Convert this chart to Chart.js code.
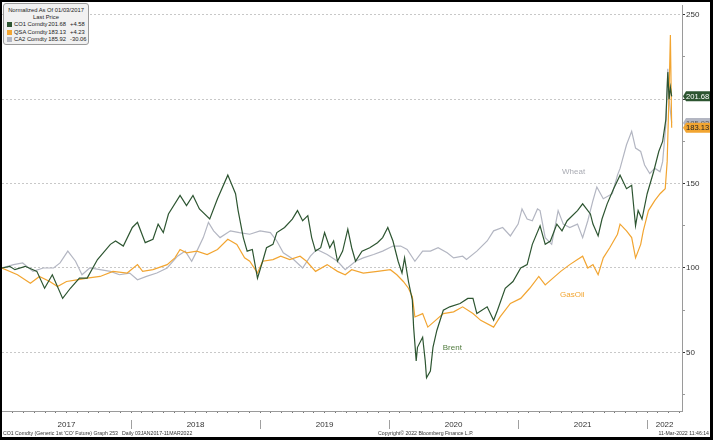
<!DOCTYPE html>
<html>
<head>
<meta charset="utf-8">
<script src="https://cdn.jsdelivr.net/npm/chart.js@4.4.1/dist/chart.umd.min.js"></script>
<style>
  html, body { margin: 0; padding: 0; background: #fff; }
  #wrap { position: relative; width: 713px; height: 440px; overflow: hidden; font-family: "Liberation Sans", Arial, sans-serif; color: #222; }
  #chart { position: absolute; left: 0; top: 0; }
  #frame { position: absolute; left: 0; top: 0; width: 713px; height: 440px; box-sizing: border-box;
           border-style: solid; border-color: #000; border-width: 2px 3px 3px 2px; pointer-events: none; }
  #legend { position: absolute; left: 3px; top: 3px; width: 84px; height: 40px; background: #f1f1f1;
            border: 1px solid #9a9a9a; border-radius: 3px; font-size: 5.8px; line-height: 7.2px; }
  #legend .row { position: relative; height: 7.2px; white-space: nowrap; }
  #legend .title { padding-top: 3px; text-align: center; }
  #legend .sub { text-align: center; }
  #legend .sw { position: absolute; left: 3px; top: 1px; width: 5px; height: 5px; }
  #legend .nm { position: absolute; left: 10px; }
  #legend .vl { position: absolute; right: 22px; }
  #legend .ch { position: absolute; left: 66px; }
  .foot { position: absolute; top: 430px; font-size: 5.2px; line-height: 6px; white-space: nowrap; color: #333; }
</style>
</head>
<body>
<div id="wrap">
  <canvas id="chart" width="713" height="440"></canvas>
  <div id="legend"></div>
  <div class="foot" style="left:3px">CO1 Comdty (Generic 1st 'CO' Future) Graph 253</div>
  <div class="foot" style="left:122px">Daily 03JAN2017-11MAR2022</div>
  <div class="foot" style="left:378px">Copyright© 2022 Bloomberg Finance L.P.</div>
  <div class="foot" style="right:4px">11-Mar-2022 11:46:14</div>
  <div id="frame"></div>
</div>
<script>
// series names / colours / legend info
const seriesNames = ["CO1 Comdty", "QSA Comdty", "CA2 Comdty"];
const seriesLabels = ["Brent", "GasOil", "Wheat"];
const seriesColors = ["#2d5531", "#f2a531", "#b3b6c2"];
const dayChange = ["+4.58", "+4.23", "-30.06"];
const yearLabels = ["2017", "2018", "2019", "2020", "2021", "2022"];

// Brent (CO1), normalized to 100 on 03 Jan 2017, x = decimal year
const brentT = [2017.00, 2017.06, 2017.10, 2017.18, 2017.27, 2017.33, 2017.39, 2017.47, 2017.53, 2017.60, 2017.66, 2017.74, 2017.84, 2017.88, 2017.94,
  2018.01, 2018.05, 2018.11, 2018.17, 2018.21, 2018.25, 2018.29, 2018.38, 2018.43, 2018.48, 2018.53, 2018.61, 2018.67, 2018.75, 2018.81, 2018.83, 2018.87, 2018.90, 2018.94, 2018.98,
  2019.02, 2019.05, 2019.10, 2019.13, 2019.19, 2019.25, 2019.29, 2019.33, 2019.37, 2019.40, 2019.43, 2019.47, 2019.50, 2019.54, 2019.57, 2019.60, 2019.64, 2019.68, 2019.71, 2019.74, 2019.79, 2019.85, 2019.91, 2019.95, 2019.99,
  2020.03, 2020.07, 2020.10, 2020.12, 2020.15, 2020.18, 2020.19, 2020.21, 2020.22, 2020.26, 2020.28, 2020.29, 2020.32, 2020.34, 2020.37, 2020.42, 2020.47, 2020.55, 2020.61, 2020.65, 2020.68, 2020.76, 2020.81, 2020.84, 2020.90, 2020.96,
  2021.02, 2021.07, 2021.11, 2021.17, 2021.21, 2021.25, 2021.30, 2021.34, 2021.38, 2021.46, 2021.50, 2021.56, 2021.58, 2021.62, 2021.65, 2021.69, 2021.74, 2021.79, 2021.84, 2021.88, 2021.91, 2021.93, 2021.96,
  2022.00, 2022.05, 2022.09, 2022.12, 2022.145, 2022.16, 2022.17, 2022.18, 2022.19];
const brentV = [100, 101, 99, 101, 98, 88, 96, 82, 88, 94, 94, 105, 114, 116, 113,
  124, 127, 115, 117, 126, 121, 132, 143, 137, 143, 135, 129, 141, 155, 144, 134, 118, 110, 111, 94,
  104, 112, 114, 121, 124, 129, 134, 128, 131, 118, 110, 112, 121, 112, 116, 104, 110, 123, 112, 104, 110, 112, 115, 118, 124,
  116, 104, 97, 106, 92, 81, 65, 45, 53, 59, 45, 35, 39, 53, 63, 75, 77, 79, 82, 82, 73, 77, 69, 75, 88, 92,
  100, 102, 114, 125, 114, 116, 126, 122, 128, 134, 138, 132, 126, 119, 129, 138, 147, 155, 147, 149, 125, 134, 129,
  144, 157, 169, 175, 188, 216, 200, 207, 201.68];

// Gasoil (QSA)
const gasoilT = [2017.00, 2017.12, 2017.22, 2017.29, 2017.37, 2017.43, 2017.50, 2017.58, 2017.66, 2017.76, 2017.86, 2017.97,
  2018.05, 2018.09, 2018.17, 2018.28, 2018.34, 2018.38, 2018.43, 2018.51, 2018.59, 2018.67, 2018.75, 2018.82, 2018.88, 2018.92, 2018.98,
  2019.02, 2019.10, 2019.16, 2019.23, 2019.31, 2019.36, 2019.43, 2019.52, 2019.60, 2019.66, 2019.71, 2019.80, 2019.91,
  2020.01, 2020.06, 2020.11, 2020.15, 2020.18, 2020.20, 2020.26, 2020.30, 2020.36, 2020.42, 2020.50, 2020.57, 2020.65, 2020.71, 2020.81, 2020.86, 2020.94,
  2021.02, 2021.09, 2021.16, 2021.21, 2021.27, 2021.33, 2021.40, 2021.46, 2021.50, 2021.54, 2021.58, 2021.62, 2021.66, 2021.71, 2021.77, 2021.79, 2021.84, 2021.88, 2021.91, 2021.95, 2021.97,
  2022.01, 2022.06, 2022.10, 2022.14, 2022.155, 2022.17, 2022.18, 2022.19];
const gasoilV = [100, 96, 91, 95, 92, 89, 92, 93, 94, 95, 98, 97,
  102, 98, 99, 102, 106, 111, 109, 110, 108, 111, 117, 114, 106, 104, 97,
  104, 105, 107, 105, 107, 104, 98, 102, 98, 96, 99, 97, 98,
  99, 96, 92, 88, 83, 71, 73, 65, 69, 73, 74, 77, 73, 69, 65, 71, 79,
  82, 88, 95, 90, 94, 98, 102, 105, 107, 100, 102, 96, 106, 112, 120, 126, 122, 118, 106, 114, 122,
  134, 140, 144, 147, 163, 205, 238, 183.13];

// Wheat (CA2)
const wheatT = [2017.00, 2017.09, 2017.16, 2017.24, 2017.32, 2017.40, 2017.45, 2017.51, 2017.57, 2017.62, 2017.68, 2017.76, 2017.84, 2017.91, 2017.99,
  2018.05, 2018.12, 2018.20, 2018.28, 2018.36, 2018.42, 2018.47, 2018.51, 2018.56, 2018.60, 2018.64, 2018.69, 2018.77, 2018.84, 2018.92,
  2019.00, 2019.08, 2019.13, 2019.18, 2019.26, 2019.33, 2019.39, 2019.44, 2019.52, 2019.60, 2019.66, 2019.74, 2019.80, 2019.88, 2019.95,
  2020.03, 2020.09, 2020.14, 2020.20, 2020.26, 2020.32, 2020.38, 2020.45, 2020.50, 2020.57, 2020.60, 2020.68, 2020.76, 2020.81, 2020.88, 2020.94,
  2021.00, 2021.03, 2021.07, 2021.11, 2021.15, 2021.17, 2021.21, 2021.26, 2021.31, 2021.35, 2021.40, 2021.46, 2021.50, 2021.54, 2021.58, 2021.61, 2021.66, 2021.73, 2021.77, 2021.79, 2021.84, 2021.88, 2021.91, 2021.95, 2021.98,
  2022.02, 2022.06, 2022.10, 2022.12, 2022.145, 2022.16, 2022.17, 2022.19];
const wheatV = [100, 102, 103, 98, 100, 100, 103, 110, 104, 96, 100, 99, 98, 96, 97,
  93, 95, 97, 100, 107, 110, 104, 110, 118, 127, 122, 118, 122, 121, 120,
  122, 121, 116, 109, 105, 100, 107, 111, 108, 104, 99, 104, 106, 108, 110,
  113, 113, 111, 104, 110, 110, 112, 109, 106, 107, 105, 110, 116, 122, 124, 119,
  126, 135, 129, 128, 135, 134, 118, 114, 134, 126, 124, 126, 118, 128, 140, 148, 141, 144, 155, 159, 173, 181, 171, 169, 161,
  156, 159, 157, 163, 185, 218, 200, 185.92];

const yTicks = [25, 50, 75, 100, 125, 150, 175, 200, 225, 250];

const X_MIN = 2017, X_MAX = 2022.27;
const FONT = '"Liberation Sans", Arial, sans-serif';

function toPoints(ts, vs) {
  return ts.map((t, i) => ({ x: t, y: vs[i] }));
}

const seriesData = [toPoints(brentT, brentV), toPoints(gasoilT, gasoilV), toPoints(wheatT, wheatV)];

// legend box
const legendEl = document.getElementById("legend");
let html = '<div class="title">Normalized As Of 01/03/2017</div><div class="sub">Last Price</div>';
seriesNames.forEach((n, i) => {
  const last = seriesData[i][seriesData[i].length - 1].y.toFixed(2);
  html += '<div class="row"><span class="sw" style="background:' + seriesColors[i] + '"></span>' +
    '<span class="nm">' + n + '</span><span class="vl">' + last + '</span><span class="ch">' + dayChange[i] + '</span></div>';
});
legendEl.innerHTML = html;

// monthly minor ticks + one label tick per year segment
function buildXTicks(scale) {
  const ticks = [];
  for (let m = 1; 2017 + m / 12 <= X_MAX; m++) ticks.push({ value: 2017 + m / 12 });
  yearLabels.forEach((lab, i) => {
    const y0 = 2017 + i, y1 = Math.min(y0 + 1, X_MAX);
    ticks.push({ value: (y0 + y1) / 2, yearLabel: lab });
  });
  scale.ticks = ticks;
}

const decorPlugin = {
  id: "decor",
  afterDraw(chart) {
    const { ctx, scales: { x, y } } = chart;
    ctx.save();
    // year separators below the axis
    ctx.strokeStyle = "#a0a0a0";
    ctx.lineWidth = 1;
    for (let yr = 2018; yr <= 2022; yr++) {
      const px = Math.round(x.getPixelForValue(yr)) + 0.5;
      ctx.beginPath();
      ctx.moveTo(px, x.top + 9);
      ctx.lineTo(px, x.top + 18);
      ctx.stroke();
    }
    // inline series labels
    ctx.font = "8px " + FONT;
    ctx.textBaseline = "middle";
    ctx.textAlign = "center";
    const spots = [[2020.49, 53, "#4f7a3c"], [2021.42, 84, "#f2a531"], [2021.43, 157, "#a9abb3"]];
    spots.forEach((s, i) => {
      ctx.fillStyle = s[2];
      ctx.fillText(seriesLabels[i], x.getPixelForValue(s[0]), y.getPixelForValue(s[1]));
    });
    // last value tags on the right axis
    const tagOrder = [2, 0, 1];
    const fg = ["#ffffff", "#222222", "#555555"];
    tagOrder.forEach(i => {
      const last = seriesData[i][seriesData[i].length - 1].y;
      const py = y.getPixelForValue(last);
      const x0 = y.left + 1, h = 10;
      ctx.fillStyle = seriesColors[i];
      ctx.beginPath();
      ctx.moveTo(x0, py);
      ctx.lineTo(x0 + 3, py - h / 2);
      ctx.lineTo(x0 + 40, py - h / 2);
      ctx.lineTo(x0 + 40, py + h / 2);
      ctx.lineTo(x0 + 3, py + h / 2);
      ctx.closePath();
      ctx.fill();
      ctx.fillStyle = fg[i];
      ctx.textAlign = "left";
      ctx.font = "7.6px " + FONT;
      ctx.fillText(last.toFixed(2), x0 + 3, py + 0.5);
    });
    ctx.restore();
  }
};

new Chart(document.getElementById("chart").getContext("2d"), {
  type: "line",
  data: {
    datasets: seriesData.map((pts, i) => ({
      label: seriesNames[i],
      data: pts,
      borderColor: seriesColors[i],
      borderWidth: 1.2,
      pointRadius: 0,
      tension: 0,
      fill: false
    }))
  },
  options: {
    responsive: false,
    animation: false,
    layout: { padding: { left: 2, top: 3, right: 0, bottom: 0 } },
    plugins: { legend: { display: false }, tooltip: { enabled: false } },
    scales: {
      x: {
        type: "linear",
        min: X_MIN,
        max: X_MAX,
        afterBuildTicks: buildXTicks,
        afterFit: s => { s.height = 29; },
        grid: {
          drawOnChartArea: false,
          tickLength: 2,
          tickColor: c => (c.tick && c.tick.yearLabel) ? "rgba(0,0,0,0)" : "#777"
        },
        border: { color: "#9a9a9a", width: 1 },
        ticks: {
          autoSkip: false,
          maxRotation: 0,
          minRotation: 0,
          padding: 7,
          color: "#333",
          font: { family: FONT, size: 8 },
          callback: function (v, i, ticks) { return ticks[i].yearLabel || ""; }
        }
      },
      y: {
        position: "right",
        min: 15.3,
        max: 255.3,
        afterBuildTicks: s => { s.ticks = yTicks.map(v => ({ value: v })); },
        afterFit: s => { s.width = 31; },
        grid: {
          tickLength: 3,
          color: c => (c.tick && c.tick.value % 50 === 0) ? "#c8c8c8" : "rgba(0,0,0,0)",
          tickColor: c => (c.tick && c.tick.value % 50 === 0) ? "#333" : "#999"
        },
        border: { color: "#9a9a9a", width: 1, dash: [2, 2] },
        ticks: {
          padding: 1,
          color: "#333",
          font: { family: FONT, size: 8 },
          callback: v => (v % 50 === 0 ? String(v) : "")
        }
      }
    }
  },
  plugins: [decorPlugin]
});
</script>
</body>
</html>
